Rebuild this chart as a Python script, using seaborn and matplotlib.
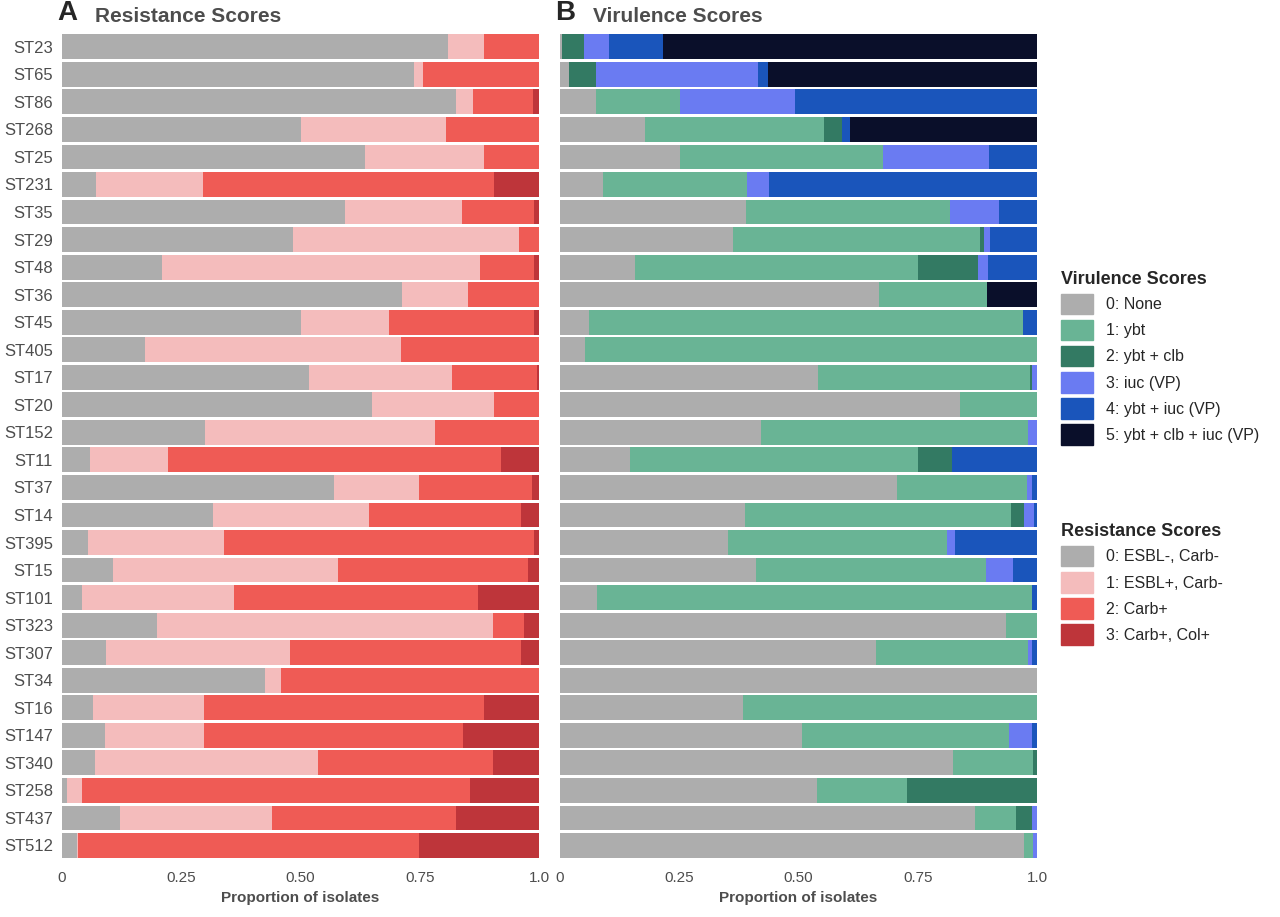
import numpy as np
import matplotlib.pyplot as plt
import seaborn as sns
from matplotlib.patches import Patch

sts = ["ST23", "ST65", "ST86", "ST268", "ST25", "ST231", "ST35", "ST29", "ST48", "ST36",
       "ST45", "ST405", "ST17", "ST20", "ST152", "ST11", "ST37", "ST14", "ST395", "ST15",
       "ST101", "ST323", "ST307", "ST34", "ST16", "ST147", "ST340", "ST258", "ST437", "ST512"]

# cumulative boundaries (end of each category)
res_cum = [
    [0.809, 0.885, 1.0], [0.738, 0.757, 1.0], [0.826, 0.862, 0.987], [0.501, 0.805, 1.0],
    [0.635, 0.885, 1.0], [0.071, 0.296, 0.906], [0.593, 0.839, 0.99], [0.484, 0.958, 1.0],
    [0.21, 0.876, 0.99], [0.713, 0.851, 1.0], [0.501, 0.686, 0.99], [0.174, 0.711, 1.0],
    [0.518, 0.818, 0.996], [0.65, 0.906, 1.0], [0.3, 0.782, 1.0], [0.059, 0.222, 0.92],
    [0.57, 0.748, 0.985], [0.317, 0.644, 0.962], [0.055, 0.34, 0.99], [0.107, 0.579, 0.977],
    [0.042, 0.361, 0.872], [0.199, 0.904, 0.969], [0.092, 0.478, 0.962], [0.426, 0.459, 1.0],
    [0.065, 0.298, 0.885], [0.09, 0.298, 0.841], [0.069, 0.537, 0.904], [0.01, 0.042, 0.855],
    [0.122, 0.44, 0.826], [0.031, 0.034, 0.748],
]
vir_cum = [
    [0.004, 0.004, 0.05, 0.103, 0.216], [0.019, 0.019, 0.075, 0.415, 0.436],
    [0.075, 0.252, 0.252, 0.493, 1.0], [0.178, 0.553, 0.591, 0.591, 0.608],
    [0.252, 0.677, 0.677, 0.899, 1.0], [0.09, 0.392, 0.392, 0.438, 1.0],
    [0.39, 0.818, 0.818, 0.92, 1.0], [0.363, 0.88, 0.889, 0.901, 1.0],
    [0.157, 0.75, 0.876, 0.897, 1.0], [0.669, 0.895, 0.895, 0.895, 0.895],
    [0.061, 0.971, 0.971, 0.971, 1.0], [0.052, 1.0, 1.0, 1.0, 1.0],
    [0.541, 0.985, 0.99, 1.0, 1.0], [0.839, 1.0, 1.0, 1.0, 1.0],
    [0.421, 0.981, 0.981, 1.0, 1.0], [0.147, 0.75, 0.822, 0.822, 1.0],
    [0.706, 0.979, 0.979, 0.99, 1.0], [0.388, 0.945, 0.973, 0.994, 1.0],
    [0.352, 0.811, 0.811, 0.828, 1.0], [0.411, 0.893, 0.893, 0.95, 1.0],
    [0.078, 0.99, 0.99, 0.99, 1.0], [0.935, 1.0, 1.0, 1.0, 1.0],
    [0.662, 0.981, 0.981, 0.99, 1.0], [1.0, 1.0, 1.0, 1.0, 1.0],
    [0.384, 1.0, 1.0, 1.0, 1.0], [0.507, 0.941, 0.941, 0.99, 1.0],
    [0.824, 0.992, 1.0, 1.0, 1.0], [0.539, 0.727, 1.0, 1.0, 1.0],
    [0.87, 0.956, 0.99, 1.0, 1.0], [0.973, 0.992, 0.992, 1.0, 1.0],
]

res_labels = ["0: ESBL-, Carb-", "1: ESBL+, Carb-", "2: Carb+", "3: Carb+, Col+"]
res_colors = ["#ADADAD", "#F4BCBC", "#EF5B55", "#BE353A"]
vir_labels = ["0: None", "1: ybt", "2: ybt + clb", "3: iuc (VP)", "4: ybt + iuc (VP)",
              "5: ybt + clb + iuc (VP)"]
vir_colors = ["#ADADAD", "#69B495", "#337A63", "#6A7BF2", "#1A55BB", "#0A0F2A"]

sns.set_style("white")
plt.rcParams['font.family'] = ['Liberation Sans', 'DejaVu Sans']

fig = plt.figure(figsize=(12.8, 9.17), dpi=100)
axA = fig.add_axes([0.0484, 0.06, 0.3727, 0.907])
axB = fig.add_axes([0.4375, 0.06, 0.3727, 0.907])


def stack(ax, cum, colors):
    cum = np.array(cum)
    full = np.hstack([np.zeros((len(cum), 1)), cum, np.ones((len(cum), 1))])
    y = np.arange(len(sts))
    for k, c in enumerate(colors):
        w = full[:, k + 1] - full[:, k]
        ax.barh(y, w, left=full[:, k], height=0.9, color=c, linewidth=0)
    ax.set_xlim(0, 1)
    ax.set_ylim(len(sts) - 0.4, -0.6)
    ax.set_xticks([0, 0.25, 0.5, 0.75, 1.0])
    ax.set_xticklabels(["0", "0.25", "0.50", "0.75", "1.0"], color="#4D4D4D", fontsize=11)
    ax.set_xlabel("Proportion of isolates", fontsize=11, fontweight="bold", color="#4D4D4D")
    ax.tick_params(axis="x", length=3, color="#333333")
    for s in ax.spines.values():
        s.set_visible(False)


stack(axA, res_cum, res_colors)
stack(axB, vir_cum, vir_colors)
axA.set_yticks(range(len(sts)))
axA.set_yticklabels(sts, fontsize=12, color="#4D4D4D")
axA.tick_params(axis="y", length=3, color="#333333")
axB.set_yticks([])

axA.text(-0.01, 1.005, "A", transform=axA.transAxes, fontsize=20, fontweight="bold", va="bottom")
axA.text(0.07, 1.005, "Resistance Scores", transform=axA.transAxes, fontsize=15,
         fontweight="bold", color="#4D4D4D", va="bottom")
axB.text(-0.01, 1.005, "B", transform=axB.transAxes, fontsize=20, fontweight="bold", va="bottom")
axB.text(0.07, 1.005, "Virulence Scores", transform=axB.transAxes, fontsize=15,
         fontweight="bold", color="#4D4D4D", va="bottom")

vh = [Patch(color=c, label=l) for c, l in zip(vir_colors, vir_labels)]
rh = [Patch(color=c, label=l) for c, l in zip(res_colors, res_labels)]
lv = fig.legend(handles=vh, title="Virulence Scores", loc="upper left",
                bbox_to_anchor=(0.818, 0.72), frameon=False, fontsize=11.5,
                title_fontproperties={"weight": "bold", "size": 13},
                handlelength=2, handleheight=1.6, labelspacing=0.35)
lv._legend_box.align = "left"
lr = fig.legend(handles=rh, title="Resistance Scores", loc="upper left",
                bbox_to_anchor=(0.818, 0.445), frameon=False, fontsize=11.5,
                title_fontproperties={"weight": "bold", "size": 13},
                handlelength=2, handleheight=1.6, labelspacing=0.35)
lr._legend_box.align = "left"

fig.savefig("out.png", dpi=100)
